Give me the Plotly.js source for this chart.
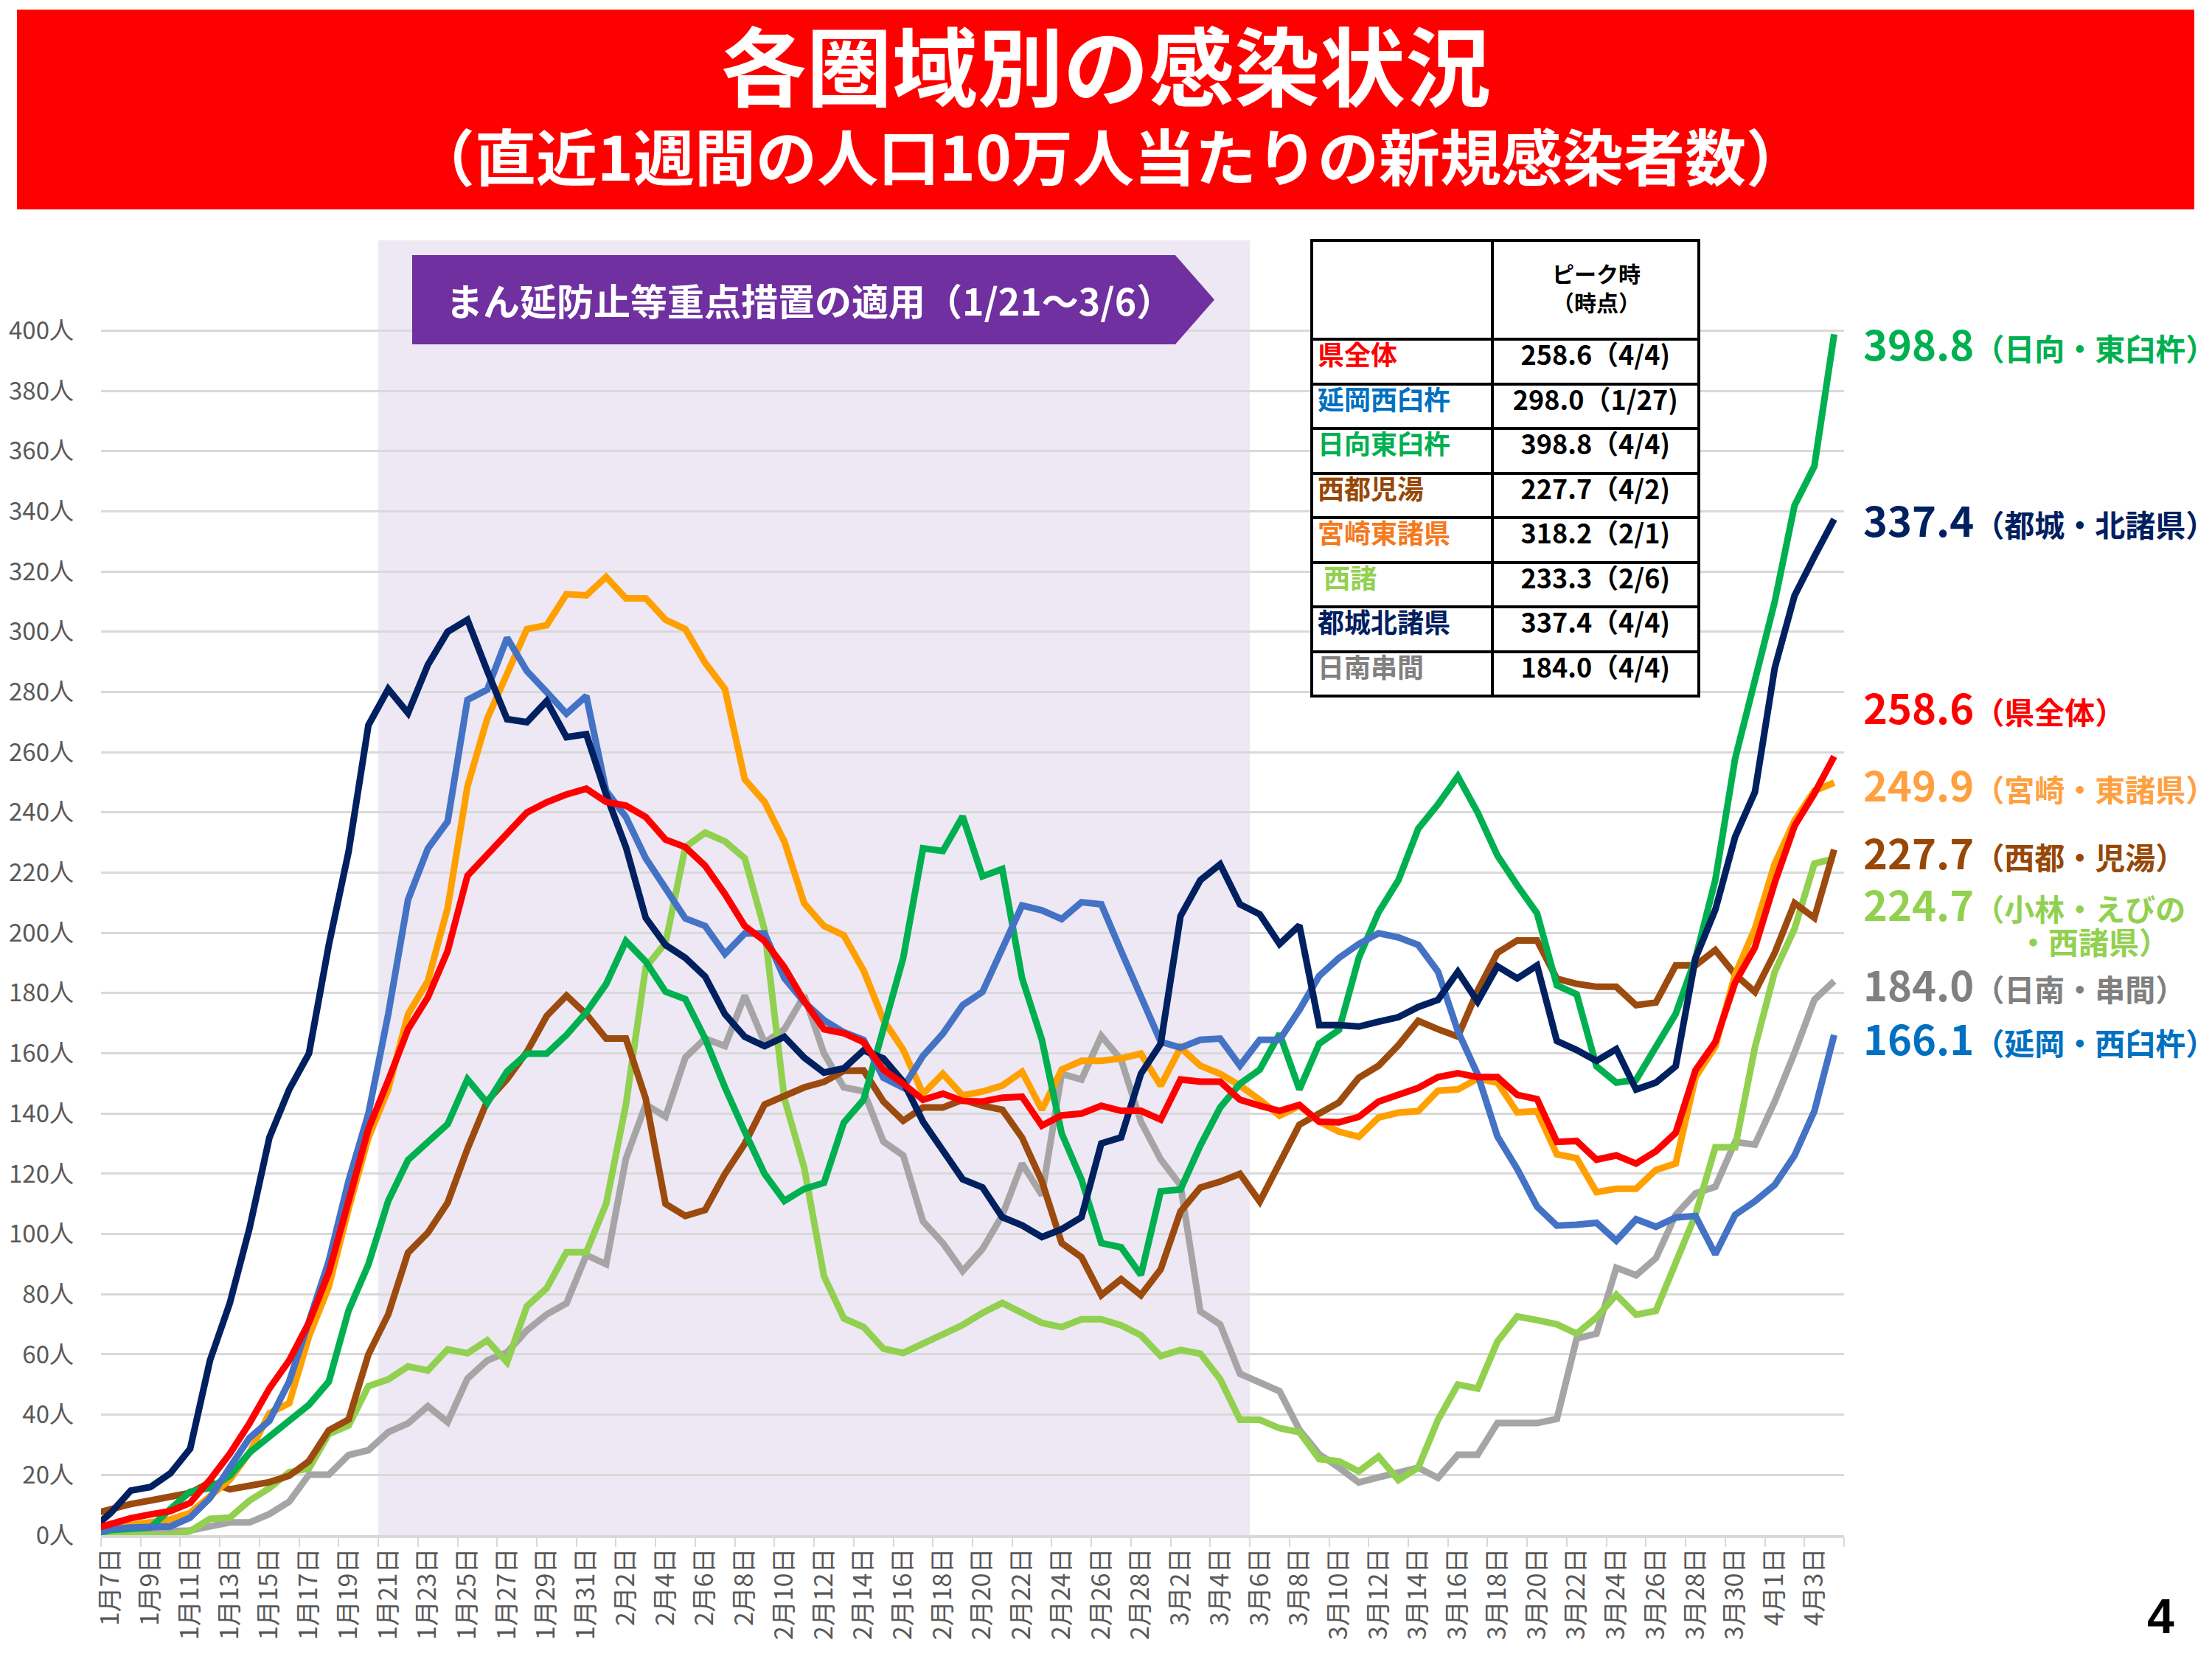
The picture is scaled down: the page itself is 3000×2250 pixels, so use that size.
<!DOCTYPE html>
<html><head><meta charset="utf-8">
<script src="https://cdn.plot.ly/plotly-3.0.1.min.js"></script>
<style>html,body{margin:0;padding:0;background:#fff;}</style>
</head><body>
<div id="chart" style="width:3000px;height:2250px;"></div>
<script>
// ---------- data ----------
// first category (1月6日) lies just left of the visible axis range, as in the original chart
const dates = ["1月6日","1月7日","1月8日","1月9日","1月10日","1月11日","1月12日","1月13日","1月14日","1月15日","1月16日","1月17日","1月18日","1月19日","1月20日","1月21日","1月22日","1月23日","1月24日","1月25日","1月26日","1月27日","1月28日","1月29日","1月30日","1月31日",
"2月1日","2月2日","2月3日","2月4日","2月5日","2月6日","2月7日","2月8日","2月9日","2月10日","2月11日","2月12日","2月13日","2月14日","2月15日","2月16日","2月17日","2月18日","2月19日","2月20日","2月21日","2月22日","2月23日","2月24日","2月25日","2月26日","2月27日","2月28日",
"3月1日","3月2日","3月3日","3月4日","3月5日","3月6日","3月7日","3月8日","3月9日","3月10日","3月11日","3月12日","3月13日","3月14日","3月15日","3月16日","3月17日","3月18日","3月19日","3月20日","3月21日","3月22日","3月23日","3月24日","3月25日","3月26日","3月27日","3月28日","3月29日","3月30日","3月31日",
"4月1日","4月2日","4月3日","4月4日"];

const nichinan = [0,0.1,1.3,1.5,1.5,1.5,2.9,4.2,4.2,7,11.1,20.1,20.1,26.6,28.2,34.2,37.1,42.8,37.5,52,58,60.7,68,73.3,77,93,90,125,143,139,158.6,164.9,162.4,179.2,163.6,168,179.2,160,148.7,147.4,130.7,126.1,104.2,97,87.7,95,106.2,123.4,112.9,153.2,151.3,165.8,157.9,137.3,124.8,116.2,74.3,70,53.6,50.9,47.8,35,26.9,22.4,17.5,19.2,21,22.4,19,26.7,26.7,37.2,37.2,37.2,38.6,65.3,66.9,88.8,86.3,92,106.4,113.5,115.7,130.6,129.7,144,160.2,177.8,184.0];
const nishimoro = [0,0,0,0,0,1.3,5.4,5.8,11.5,15.6,20.9,22.1,33.6,36.4,49.5,51.7,56,54.7,61.7,60.4,64.7,57.4,76,82,94,94,110,143,188.6,196.7,228.5,233.3,230.4,224.8,201,145,122,86,72,69.1,61.9,60.5,63.8,66.5,69.8,73.8,77.1,73.8,70.5,69.1,71.7,71.7,69.7,66.4,59.5,61.5,60.3,51.8,38.3,38.3,35.5,34.2,25.3,24.5,21.2,26.1,18.3,22.4,38.3,50,48.7,64.3,72.6,71.4,70,66.9,72.3,79.8,73.2,74.5,90.2,106.4,128.8,128.8,162,187.1,201.4,223,224.7];
const saitoKoyu = [6.9,8.7,10.3,11.5,12.7,14,17.6,15.2,16.4,17.6,19.7,24.6,34.8,38.4,60,73.3,93.8,100.4,110.4,128.3,144.2,151.4,160.5,172.4,179.2,173,164.9,164.9,145,110,106,108,120,130,143,146,148.7,150.5,154.2,154.3,144,137.6,142,142,144.6,142.6,141.3,132,117.5,97,92.3,79.7,85,79.7,88.3,107.5,115.4,117.4,120,110.8,124,136.3,140,143.7,151.9,155.9,162.7,170.8,168,165.6,180.8,193.4,197.5,197.5,184.8,183.1,182.1,182.1,176,176.9,189.2,189.2,194.3,186.2,180.4,193.4,209.9,205,227.7];
const miyazaki = [0.3,2.3,3.3,4.2,5.2,7.4,12.7,18.4,27.4,40.5,43.8,66,82.5,108.4,132,148,173,184,208.3,248.7,271.2,286,300.9,302.2,312.5,312.1,318.2,311.1,311.1,304,300.9,289.7,281,251,243.5,230.4,209.8,202.3,199.2,187.5,171.1,161.2,146.6,153.2,146,147.3,149.3,153.9,141.3,154.6,157.5,157.5,158.3,159.9,149.3,161.9,155.9,153.2,149.3,144.6,139.3,142.6,137.3,134,132.3,138.7,140.3,140.8,147.6,148,151.6,150.3,140.4,140.8,126.5,125.2,113.9,115,115,121.3,123.4,152.1,162.3,186.2,201.4,223,237.3,247.2,249.9];
const hyuga = [0,1.7,2.1,2.5,8.7,14.4,15.6,19.7,27.4,32.7,38,43.3,51,74.6,89.9,111,124.6,130.3,136.5,151.4,143.5,154,159.9,159.9,166.1,173.6,183,197.3,190.5,180.5,178,164.9,148.7,134,120,111,115,117,137,144.6,167.8,191.7,228.1,227.2,238.7,218.8,221.2,185,164.5,133.4,118.1,97,95.6,86.4,114.2,114.8,129.4,142,149.9,154.6,166.5,148,163.2,167.8,191.7,206.9,217.5,234.6,242.7,252,240,225.7,215.8,206.5,182.6,179.6,155.7,150.3,151.2,162,173.1,191.6,217.6,257.9,283,310,342,355,398.8];
const nobeoka = [0.6,2,2.5,2.8,2.9,5.8,12.3,22.5,32.3,38,51,71,91,117.7,140,173,211,228,237,277.4,280.8,298,287,280,272.8,278.7,247.2,238.5,224.8,214.8,204.8,202.3,193,199.8,199.8,185,177,171,167,164.5,151.9,148.6,159.2,166.5,176,180.4,195,209.1,207.5,204.6,210.2,209.5,194,179,163.8,161.9,164.5,164.9,155.9,164.5,164.5,174.4,185.7,191.7,196.3,199.9,198.5,196,187.1,167.4,153,132.4,121.6,109.1,102.8,103.1,103.7,97.8,104.9,102.4,105.5,106,93.3,106.4,110.9,116.3,126.1,140.8,166.1];
const miyakonojo = [1.8,7.4,14.8,16,20.5,28.7,58,77,102,132,148,160,196,227,269,281,273,289,300,304,287,271,270,277,265,266,246,228.5,205,196,191.7,185.5,173,165.5,162.4,165.5,158.6,153.6,155,161,158.3,150.6,137.3,128.1,118.2,115.5,105.6,102.9,99,101.6,105.6,130.1,132.1,153.2,163.2,205.6,217.5,222.8,209.5,206.2,196.3,202.5,169.4,169.4,168.9,170.5,172,175.4,177.8,187.1,177.2,188.9,184.9,189.2,164.1,161.1,157.5,161.4,148,150.3,155.7,191.6,207.7,231.9,246.8,288,312,325,337.4];
const kenzentai = [1.8,3.8,5.6,6.9,8,10.7,18.4,27,37.2,48.7,58,70.6,87.2,111,134.9,151,168,178.6,194,219,226.2,233.5,240,243.4,246,247.9,243.5,242.3,238.5,231,228.5,222.3,212.9,202.3,197.3,188.6,177.4,168,166.7,163.7,154.6,149.9,144.6,146.6,144.2,144,145.3,145.6,136,139.4,140,142.6,140.9,140.9,138,151.3,150.6,150.6,144.6,142.6,140.9,142.9,137.3,137.1,138.9,144,146,148.5,152.1,153.4,152.1,152.1,146.2,144.8,130.6,130.9,124.7,126.1,123.4,127.5,133.6,154.4,163.8,183.5,195.2,216.7,235.5,246.3,258.6];

const seriesNames = ["日南串間","西諸","西都児湯","宮崎東諸県","日向東臼杵","延岡西臼杵","都城北諸県","県全体"];
const seriesValues = [nichinan, nishimoro, saitoKoyu, miyazaki, hyuga, nobeoka, miyakonojo, kenzentai];
const seriesColors = ["#a5a5a5","#92d050","#9c4a0e","#ffa000","#00b050","#4472c4","#002060","#ff0000"];

const yTickVals = [0,20,40,60,80,100,120,140,160,180,200,220,240,260,280,300,320,340,360,380,400];
const yTickText = ["0人","20人","40人","60人","80人","100人","120人","140人","160人","180人","200人","220人","240人","260人","280人","300人","320人","340人","360人","380人","400人"];

const tableHeader = "ピーク時<br>（時点）";
const tableNames = ["県全体","延岡西臼杵","日向東臼杵","西都児湯","宮崎東諸県"," 西諸","都城北諸県","日南串間"];
const tablePeaks = ["258.6（4/4)","298.0（1/27)","398.8（4/4)","227.7（4/2)","318.2（2/1)","233.3（2/6)","337.4（4/4)","184.0（4/4)"];
const tableColors = ["#ff0000","#0070c0","#00b050","#974706","#f47920","#92d050","#002060","#808080"];

const endValues = ["398.8","337.4","258.6","249.9","227.7","224.7","184.0","166.1"];
const endNames = ["（日向・東臼杵）","（都城・北諸県）","（県全体）","（宮崎・東諸県）","（西都・児湯）","（小林・えびの","（日南・串間）","（延岡・西臼杵）"];
const endColors = ["#00b050","#002060","#ff0000","#ffa040","#974706","#92d050","#808080","#0070c0"];

// ---------- build ----------
const FONT = "Noto Sans CJK JP, Noto Sans, sans-serif";
const traces = seriesNames.map((n, k) => ({
  type: "scatter", mode: "lines", name: n, x: dates, y: seriesValues[k],
  line: {color: seriesColors[k], width: 9}, hoverinfo: "skip"
}));

traces.push({
  type: "table",
  domain: {x: [0.6946, 0.9171], y: [0.645, 1.0]},
  columnwidth: [245, 281],
  header: {
    values: ["", ""], height: 134, align: "center",
    line: {color: "#000", width: 4}, fill: {color: "#fff"},
    font: {family: FONT, size: 27, color: "#000"}
  },
  cells: {
    values: [tableNames, tablePeaks], height: 60.5, align: ["left", "center"],
    line: {color: "#000", width: 4}, fill: {color: "#fff"},
    font: {family: FONT, size: 36, color: [tableColors, tableColors.map(() => "#000")], weight: "bold"}
  }
});

const px = v => (v - 137) / 2364;     // page pixel -> paper x
const py = v => (2082 - v) / 1756;    // page pixel -> paper y

const labelY = [465, 704, 957, 1062, 1154, 1224, 1333, 1406];
const annotations = endValues.map((v, k) => ({
  xref: "paper", yref: "paper", x: px(2525), y: py(labelY[k]), xanchor: "left", yanchor: "middle",
  showarrow: false, align: "left",
  text: '<b><span style="font-size:56px">' + v + '</span><span style="font-size:41px">' + endNames[k] + '</span></b>',
  font: {family: FONT, size: 41, color: endColors[k]}
}));
annotations.push({
  xref: "paper", yref: "paper", x: px(2735), y: py(1276), xanchor: "left", yanchor: "middle", showarrow: false,
  text: "<b>・西諸県）</b>", font: {family: FONT, size: 41, color: "#92d050"}
});
annotations.push({
  xref: "paper", yref: "paper", x: px(2164.5), y: py(389), xanchor: "center", yanchor: "middle", showarrow: false,
  text: "<b>" + tableHeader + "</b>", font: {family: FONT, size: 30, color: "#000"}
});
annotations.push({
  xref: "paper", yref: "paper", x: px(1098), y: py(406), xanchor: "center", yanchor: "middle", showarrow: false,
  text: "<b>まん延防止等重点措置の適用（1/21〜3/6）</b>", font: {family: FONT, size: 50, color: "#fff"}
});
annotations.push({
  xref: "paper", yref: "paper", x: px(1500), y: py(84), xanchor: "center", yanchor: "middle", showarrow: false,
  text: "<b>各圏域別の感染状況</b>", font: {family: FONT, size: 116, color: "#fff"}
});
annotations.push({
  xref: "paper", yref: "paper", x: px(1506), y: py(209), xanchor: "center", yanchor: "middle", showarrow: false,
  text: "<b>（直近1週間の人口10万人当たりの新規感染者数）</b>", font: {family: FONT, size: 83, color: "#fff"}
});
annotations.push({
  xref: "paper", yref: "paper", x: px(2930), y: py(2192), xanchor: "center", yanchor: "middle", showarrow: false,
  text: "<b>4</b>", font: {family: "Liberation Sans Narrow, Liberation Sans, sans-serif", size: 66, color: "#000"}
});

const shapes = [
  {type: "rect", xref: "x", yref: "paper", x0: 14.5, x1: 58.5, y0: 0, y1: 1, fillcolor: "#ede8f4", line: {width: 0}, layer: "below"},
  {type: "rect", xref: "paper", yref: "paper", x0: px(23), x1: px(2976), y0: py(284), y1: py(13), fillcolor: "#ff0000", line: {width: 0}, layer: "above"},
  {type: "path", xref: "paper", yref: "paper",
   path: "M " + px(559) + " " + py(346) + " L " + px(1594) + " " + py(346) + " L " + px(1647) + " " + py(406.5) +
         " L " + px(1594) + " " + py(467) + " L " + px(559) + " " + py(467) + " Z",
   fillcolor: "#7030a0", line: {width: 0}, layer: "above"}
];

const layout = {
  width: 3000, height: 2250,
  margin: {l: 137, r: 499, t: 326, b: 168, autoexpand: false},
  paper_bgcolor: "#fff", plot_bgcolor: "#fff",
  font: {family: FONT, color: "#595959"},
  showlegend: false, hovermode: false,
  xaxis: {
    type: "category", tickmode: "linear", tick0: 1, dtick: 2, tickson: "boundaries", tickangle: -90,
    tickfont: {family: FONT, size: 34, color: "#595959"},
    ticks: "outside", ticklen: 12, tickwidth: 2, tickcolor: "#d9d9d9",
    showgrid: false, showline: true, linecolor: "#d9d9d9", linewidth: 4,
    range: [0.5, 88.5], automargin: false, fixedrange: true
  },
  yaxis: {
    range: [0, 430], tickvals: yTickVals, ticktext: yTickText,
    tickfont: {family: FONT, size: 33, color: "#595959"},
    showgrid: true, gridcolor: "#d9d9d9", gridwidth: 3,
    zeroline: false, showline: false, ticks: "", ticklabelstandoff: 36,
    automargin: false, fixedrange: true
  },
  shapes: shapes,
  annotations: annotations
};

Plotly.newPlot("chart", traces, layout, {displayModeBar: false, staticPlot: true});
</script>
</body></html>
